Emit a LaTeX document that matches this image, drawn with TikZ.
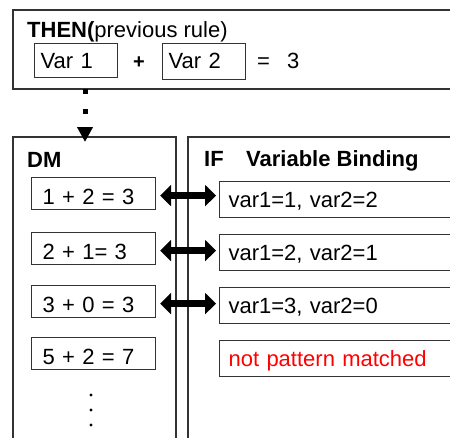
\documentclass[tikz,border=0pt]{standalone}
\usepackage{fontspec}
\setmainfont{Liberation Sans}
\usetikzlibrary{arrows.meta}

\tikzset{
  x=1pt, y=-1pt,
  frame/.style={draw=black!80, line width=1.2pt},
  txt/.style={inner sep=0pt, font=\fontsize{22}{26}\selectfont},
  head/.style={inner sep=0pt, font=\fontsize{22}{26}\selectfont\bfseries},
  dmbox/.style={frame, rectangle, anchor=north west, inner ysep=0pt, inner xsep=11pt,
    minimum width=124pt, minimum height=32pt, text height=27pt, text depth=5pt,
    align=left, text width=102pt, font=\fontsize{22}{26}\selectfont},
  ifbox/.style={frame, rectangle, anchor=north west, inner ysep=0pt, inner xsep=9pt,
    minimum width=240pt, minimum height=36pt, text height=26pt, text depth=10pt,
    align=left, text width=222pt, font=\fontsize{22}{26}\selectfont},
  varbox/.style={frame, rectangle, anchor=north west, inner ysep=0pt, inner xsep=6pt,
    minimum width=83pt, align=left, text width=71pt, font=\fontsize{22}{26}\selectfont},
  fatarrow/.style={line width=7pt, {Triangle[width=21pt,length=11pt]}-{Triangle[width=21pt,length=11pt]},
    shorten <=4pt, shorten >=3pt},
}

\begin{document}
\begin{tikzpicture}
\clip (0,0) rectangle (450,437);
\fill[white] (0,0) rectangle (450,437);

% THEN panel (open on the right)
\draw[frame] (460,10) -- (13,10) -- (13,89) -- (460,89);
\node[txt, anchor=base west] (thenlbl) at (27,37) {\textbf{THEN(}previous rule)};
\node[varbox, minimum height=34pt, text height=25pt, text depth=9pt] (var1) at (34,43) {Var 1};
\node[txt, font=\fontsize{20}{24}\selectfont\bfseries] (plus) at (139,63) {+};
\node[varbox, minimum height=36pt, text height=25pt, text depth=11pt] (var2) at (162,43) {Var 2};
\node[txt, anchor=base west] (eq) at (257,68) {=};
\node[txt, anchor=base west] (res) at (287,68) {3};

% DM panel and IF panel
\draw[frame] (13,445) -- (13,137) -- (176,137) -- (176,445);
\draw[frame] (188,445) -- (188,137) -- (460,137);
\node[head, anchor=base west] (dm) at (27,167) {DM};
\node[head, anchor=base west] (iflbl) at (204,166) {IF};
\node[head, anchor=base west] (vb) at (246,166) {Variable Binding};

% dotted link from THEN panel down to DM panel
\coordinate (thenbot) at (85,89);
\coordinate (dmtop) at (85,142);
\draw[line width=5pt, dash pattern=on 5pt off 15pt, -{Triangle[width=15pt,length=15pt]}]
  (thenbot) -- (dmtop);

% working-memory elements
\node[dmbox] (d1) at (31,177) {1 + 2 = 3};
\node[dmbox] (d2) at (31,232) {2 + 1= 3};
\node[dmbox] (d3) at (31,285) {3 + 0 = 3};
\node[dmbox] (d4) at (31,337) {5 + 2 = 7};

% bindings
\node[ifbox] (b1) at (219,181) {var1=1, var2=2};
\node[ifbox] (b2) at (219,234) {var1=2, var2=1};
\node[ifbox] (b3) at (219,287) {var1=3, var2=0};
\node[ifbox, text=red] (b4) at (219,340) {not pattern matched};

% matches
\draw[fatarrow] (d1.east) ++(0,2) coordinate (d1a) -- (d1a -| b1.west);
\draw[fatarrow] (d2.east) ++(0,2) coordinate (d2a) -- (d2a -| b2.west);
\draw[fatarrow] (d3.east) ++(0,2) coordinate (d3a) -- (d3a -| b3.west);

% continuation dots
\foreach \yy in {395,410,425} \fill (91,\yy) circle (1.6pt);
\end{tikzpicture}
\end{document}
